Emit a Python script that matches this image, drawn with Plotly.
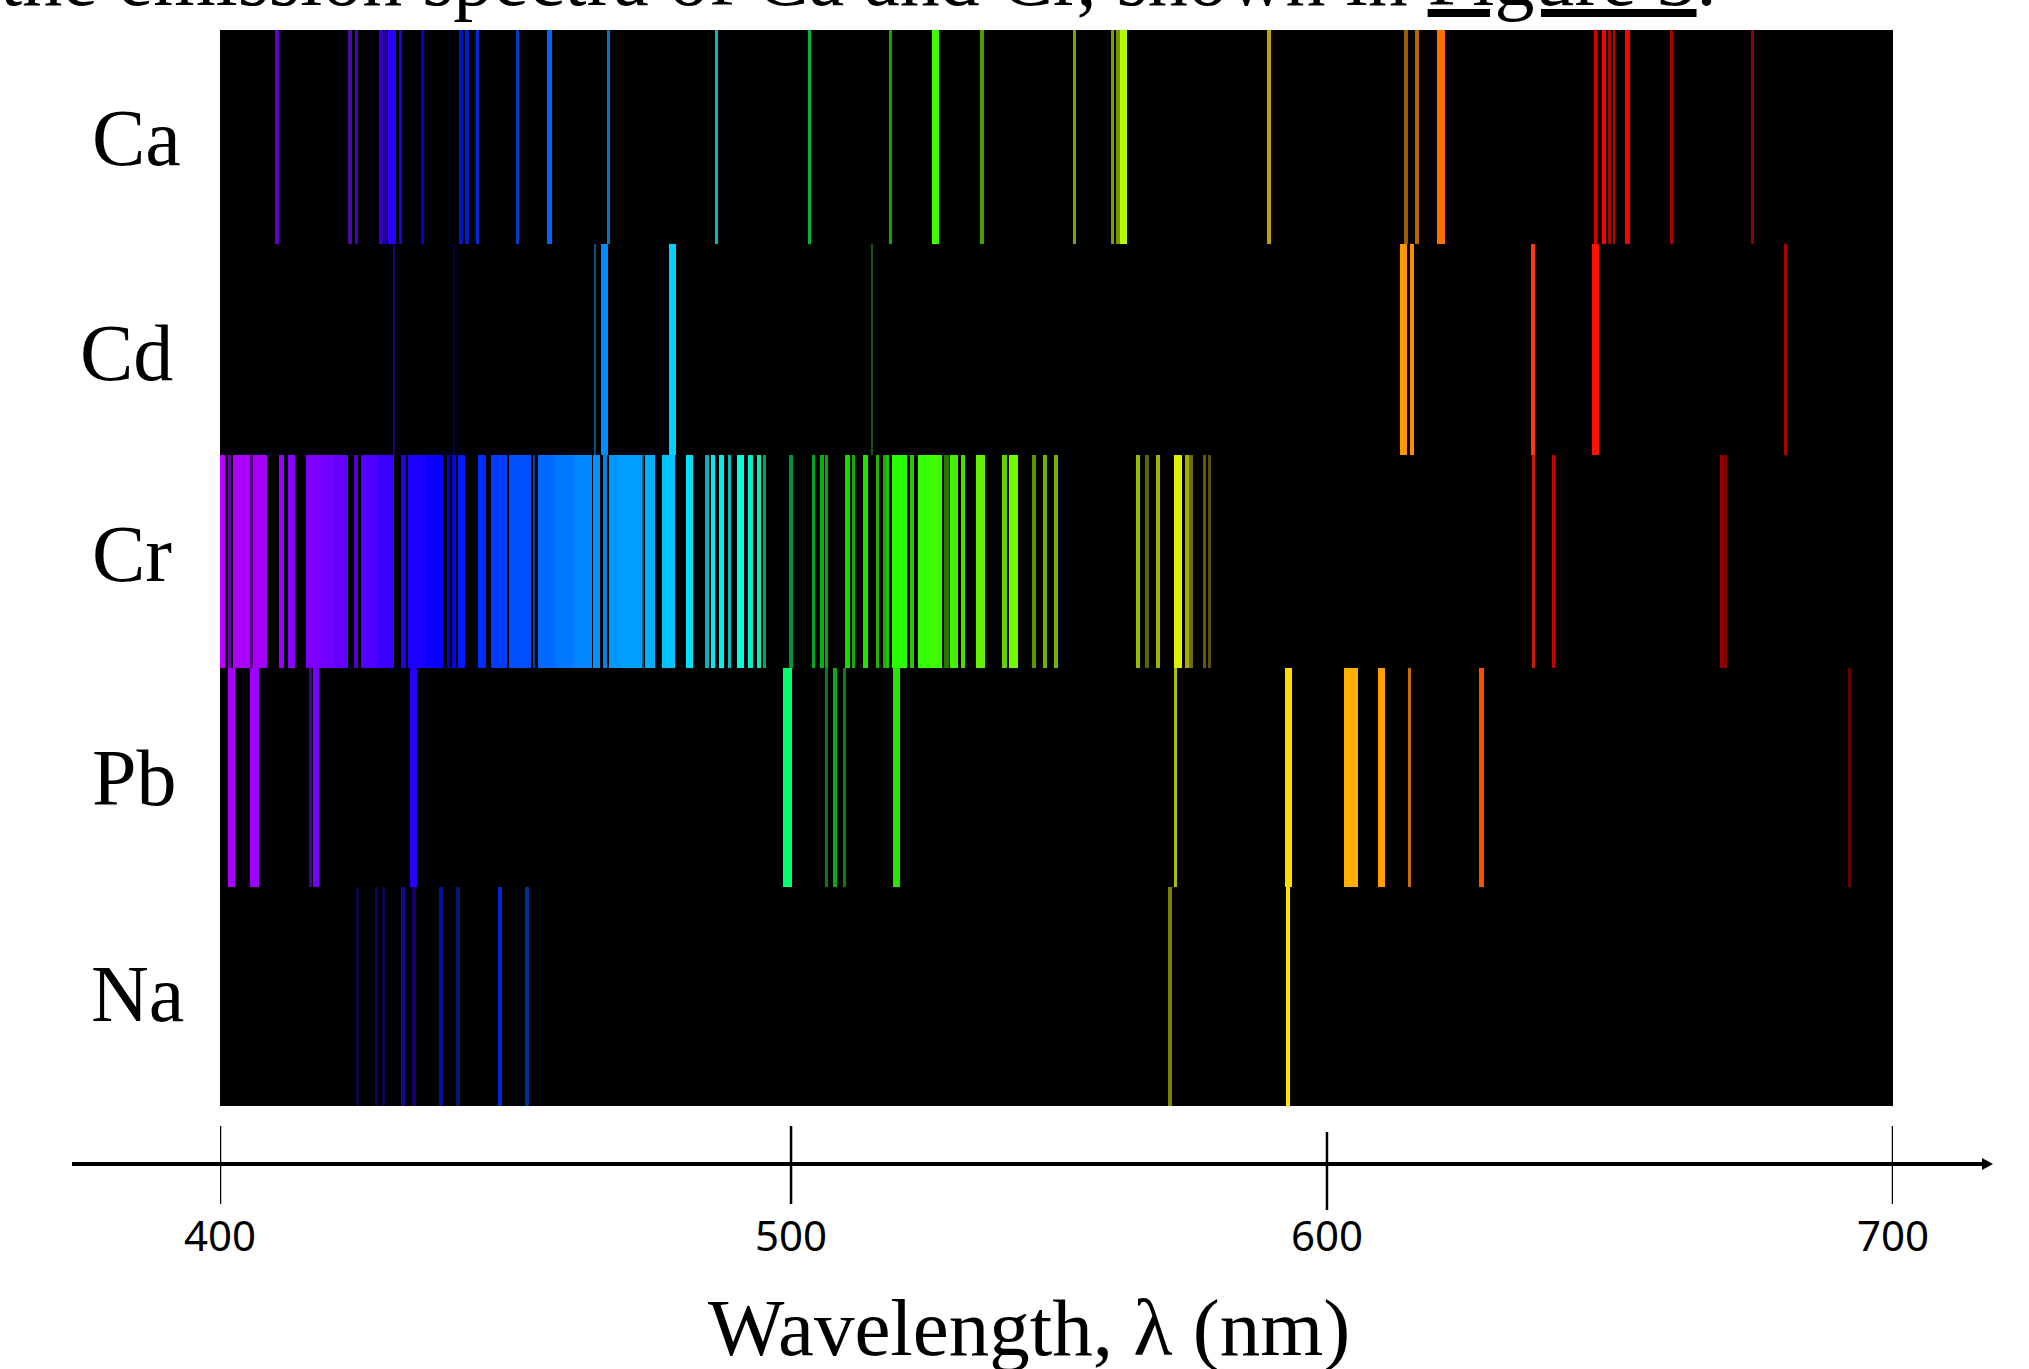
import plotly.graph_objects as go

# ---------- data: spectral line centres (nm on the drawn scale), widths (nm), colours ----------
ca_nm = [410.22,423.31,424.49,428.87,429.71,430.84,432.38,436.36,443.16,444.29,446.26,453.38,459.14,469.64,489.06,505.72,520.32,528.30,536.60,553.20,560.00,561.02,562.06,588.10,612.66,614.63,618.94,646.73,648.11,649.24,650.01,652.47,660.23,674.88]
ca_width = [.54,.54,.54,.54,.45,1.26,.54,.54,.72,.54,.54,.54,.90,.54,.63,.54,.54,1.26,.63,.63,.54,.72,1.26,.72,.63,.63,1.34,.54,.72,.54,.45,.90,.54,.54]
ca_color = ["#6000c8","#4a0aaa","#4600be","#3200c8","#280096","#2800ff","#1e00d2","#0000dc","#0014c8","#001ec8","#0028dc","#003cc8","#0064ff","#0078be","#00b9be","#00b43c","#0aaa0a","#3cff00","#46a000","#6eaa00","#78a000","#789600","#b4ff00","#bea000","#a05a00","#be6400","#ff6e00","#dc0000","#ff0000","#aa0000","#be0000","#ff0000","#aa0000","#960000"]

cd_nm = [431.20,441.92,467.31,468.86,481.17,516.84,612.25,613.68,635.43,646.73,680.80]
cd_width = [.36,.36,.36,1.26,1.17,.36,1.26,.72,.81,1.26,.54]
cd_color = ["#1e006e","#000046","#005082","#008cff","#00d2ff","#145a00","#ff9600","#ff8c00","#ff3c00","#ff1400","#aa0000"]

cr_nm = [400.45,401.70,403.89,405.70,407.17,411.03,412.86,416.65,419.19,421.67,424.33,426.76,429.72,432.85,435.21,438.35,440.97,441.96,443.34,446.98,450.03,453.85,456.36,458.52,461.68,464.97,467.54,469.03,470.74,473.67,475.85,477.07,480.42,484.19,487.36,488.36,489.92,491.32,493.28,495.12,496.65,497.67,502.39,506.38,507.94,508.75,512.52,513.54,515.69,517.86,519.11,519.72,521.88,524.05,526.26,528.41,530.32,531.58,533.19,536.33,540.61,542.28,545.96,547.93,549.90,564.61,566.22,568.19,571.78,573.39,574.11,576.55,577.40,635.61,639.20,669.32,670.04]
cr_width = [.90,.65,2.99,.30,2.40,.90,1.31,2.56,2.51,2.46,.72,2.96,2.96,.90,3.10,3.17,.54,.72,1.20,1.33,2.76,3.94,.36,3.10,3.23,3.35,1.20,.61,1.97,3.89,.47,1.85,2.33,1.26,.66,.77,.90,.59,1.26,.90,.82,.48,.61,.59,.61,.54,.79,.54,.90,.59,.59,.48,2.74,.77,2.10,2.21,.90,1.38,.77,1.67,.90,1.72,.72,.72,.72,.72,.72,.72,1.43,.72,.72,.60,.60,.54,.54,.54,.54]
cr_color = ["#be00ff","#6e00aa","#aa00ff","#5a0082","#a500ff","#9600ff","#8c00ff","#7d00ff","#7300ff","#6400ff","#5000c8","#5000ff","#3c00ff","#2800e6","#1900ff","#0a00ff","#0000c8","#000ae6","#0019ff","#002dff","#003cff","#0050ff","#004696","#0069ff","#0078ff","#0087ff","#0091ff","#0082e6","#0096ff","#00a0ff","#005a82","#00afff","#00c3ff","#00e1ff","#00b4be","#00ebfa","#00f0f0","#00bebe","#00ffdc","#00f0c8","#00f0b4","#00a06e","#00963c","#00aa28","#00b414","#0aaa0a","#14dc00","#14aa00","#1ee600","#1eb400","#1eaa00","#1ec800","#28ff00","#32c800","#32ff00","#3cff00","#287800","#46f000","#50dc00","#64f000","#64d200","#6eff00","#5a9600","#6eb400","#6eb400","#96be00","#5a6400","#a0b400","#e1f000","#aaaa00","#6e6e00","#645a00","#5a5000","#c81e00","#be0000","#960000","#820000"]

pb_nm = [402.04,406.20,416.14,417.18,434.61,501.79,508.75,510.28,511.96,521.39,571.38,591.63,602.87,608.30,613.38,626.29,692.28]
pb_width = [1.36,1.61,.54,1.08,1.26,1.61,.54,.54,.54,1.26,.63,1.26,2.51,1.26,.54,.90,.54]
pb_color = ["#aa00ff","#a000ff","#460096","#7800ff","#2800ff","#00ff6e","#0a7814","#0aaa14","#0a820a","#28e600","#aabe00","#ffdc00","#ffaf00","#ffa000","#c86e00","#ff5000","#640000"]

na_nm = [424.57,428.06,429.23,432.81,434.71,439.59,442.68,450.21,455.05,570.40,591.50]
na_width = [.54,.54,.54,.72,.72,.63,.63,.72,.72,.72,.72]
na_color = ["#140046","#14005a","#140050","#140a8c","#14006e","#050fa0","#00196e","#0028d2","#003296","#788200","#ffe100"]

elements = ["Ca", "Cd", "Cr", "Pb", "Na"]
tick_labels = ["400", "500", "600", "700"]
tick_positions = [400, 502.4, 598.5, 700]   # the printed axis is hand-spaced
x_title = "Wavelength, \u03bb (nm)"
top_text = "the emission spectra of Ca and Cr, shown in <u>Figure 3</u>."

# ---------- layout helpers ----------
W, H = 2029, 1369
ML, MR, MT, MB = 220, 136, 30, 100
PLOT_H = H - MT - MB
PLOT_W = W - ML - MR
def py(p):  # page pixel row -> paper fraction
    return (H - MB - p) / PLOT_H
def px(p):  # page pixel column -> paper fraction
    return (p - ML) / PLOT_W

row_edges = [0, .994, 1.975, 2.965, 3.982, 5]
series = [(ca_nm, ca_width, ca_color), (cd_nm, cd_width, cd_color), (cr_nm, cr_width, cr_color),
          (pb_nm, pb_width, pb_color), (na_nm, na_width, na_color)]

fig = go.Figure()
for i, (name, (nm, wd, col)) in enumerate(zip(elements, series)):
    top, bot = row_edges[i], row_edges[i + 1]
    fig.add_trace(go.Bar(x=nm, y=[bot - top] * len(nm), base=[top] * len(nm), width=wd,
                         marker=dict(color=col, line=dict(width=0)), name=name, showlegend=False))

shapes = [dict(type="rect", xref="x", yref="y", x0=400, x1=700, y0=0, y1=5,
               fillcolor="black", line=dict(width=0), layer="below"),
          # axis line running past both ends of the scale
          dict(type="line", xref="paper", yref="paper", x0=px(72), x1=px(1984), y0=py(1164), y1=py(1164),
               line=dict(color="black", width=4)),
          # arrow head
          dict(type="path", xref="paper", yref="paper", line=dict(width=0), fillcolor="black",
               path=f"M {px(1982)} {py(1158)} L {px(1993)} {py(1164)} L {px(1982)} {py(1170)} Z")]
tick_tops = [1126, 1126, 1132, 1126]
for tv, tt in zip(tick_positions, tick_tops):
    shapes.append(dict(type="line", xref="x", yref="paper", x0=tv, x1=tv, y0=py(tt), y1=py(tt + 78),
                       line=dict(color="black", width=2.5)))

serif = "Liberation Serif"
annotations = [
    dict(x=px(1029), y=py(1375), xref="paper", yref="paper", xanchor="center", yanchor="bottom",
         text=x_title, showarrow=False, font=dict(family=serif, size=81, color="black")),
    dict(x=px(-2.5), y=py(24), xref="paper", yref="paper", xanchor="left", yanchor="bottom",
         text=top_text, showarrow=False, font=dict(family=serif, size=80, color="black")),
]
label_left = [89.5, 77.5, 89.5, 89.5, 88.5]
label_mid = [137.5, 352.5, 553.5, 777.5, 994]
for name, lx, ly in zip(elements, label_left, label_mid):
    annotations.append(dict(x=px(lx), y=py(ly), xref="paper", yref="paper",
                            xanchor="left", yanchor="middle", text=name, showarrow=False,
                            font=dict(family=serif, size=80, color="black")))

fig.update_layout(
    width=W, height=H, margin=dict(l=ML, r=MR, t=MT, b=MB, pad=0), autosize=False,
    paper_bgcolor="white", plot_bgcolor="white", barmode="overlay", bargap=0, showlegend=False,
    xaxis=dict(range=[400, 700], tickmode="array", tickvals=tick_positions, ticktext=tick_labels,
               showgrid=False, zeroline=False, showline=False, ticks="outside", ticklen=36,
               tickcolor="rgba(0,0,0,0)", anchor="free", position=py(1164),
               tickfont=dict(family="Noto Sans", size=42, color="black")),
    yaxis=dict(range=[5, 0], domain=[py(1106), 1], visible=False, fixedrange=True),
    shapes=shapes, annotations=annotations,
)

fig.write_html("out.html", config=dict(displayModeBar=False),
               post_script="document.body.style.margin='0';")
